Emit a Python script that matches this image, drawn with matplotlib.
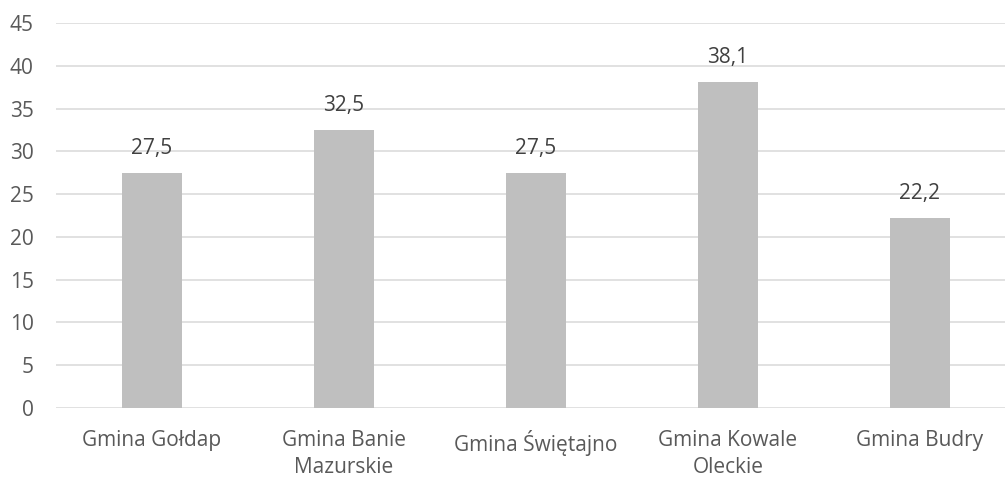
import matplotlib
matplotlib.use("Agg")
import matplotlib.pyplot as plt

# dane z wykresu
gminy = ["Gmina Gołdap", "Gmina Banie\nMazurskie", "Gmina Świętajno",
         "Gmina Kowale\nOleckie", "Gmina Budry"]
wartosci = [27.5, 32.5, 27.5, 38.1, 22.2]
y_ticks = [0, 5, 10, 15, 20, 25, 30, 35, 40, 45]

plt.rcParams['font.family'] = ['Open Sans', 'DejaVu Sans']

fig = plt.figure(figsize=(10.05, 4.78), dpi=100)
ax = fig.add_axes([56 / 1005, 70 / 478, 1 - 56 / 1005, (455 - 70) / 478])

x = list(range(len(gminy)))
ax.bar(x, wartosci, width=0.31, color='#BFBFBF', zorder=3)

for xi, v in zip(x, wartosci):
    ax.annotate(f"{v:.1f}".replace('.', ','), (xi, v), xytext=(0, 10),
                textcoords='offset points', ha='center', va='bottom',
                fontsize=15, color='#404040')

ax.set_ylim(0, 45)
ax.set_xlim(-0.5, 4.443)
ax.set_yticks(y_ticks)
ax.set_xticks(x)
ax.set_xticklabels(gminy, linespacing=1.35)
ax.grid(axis='y', color='#D9D9D9', linewidth=1.1, zorder=0)
for s in ax.spines.values():
    s.set_visible(False)
ax.tick_params(axis='both', length=0, labelsize=15, labelcolor='#595959')
ax.tick_params(axis='y', pad=16)
ax.tick_params(axis='x', pad=16)

fig.savefig("out.png", dpi=100)
